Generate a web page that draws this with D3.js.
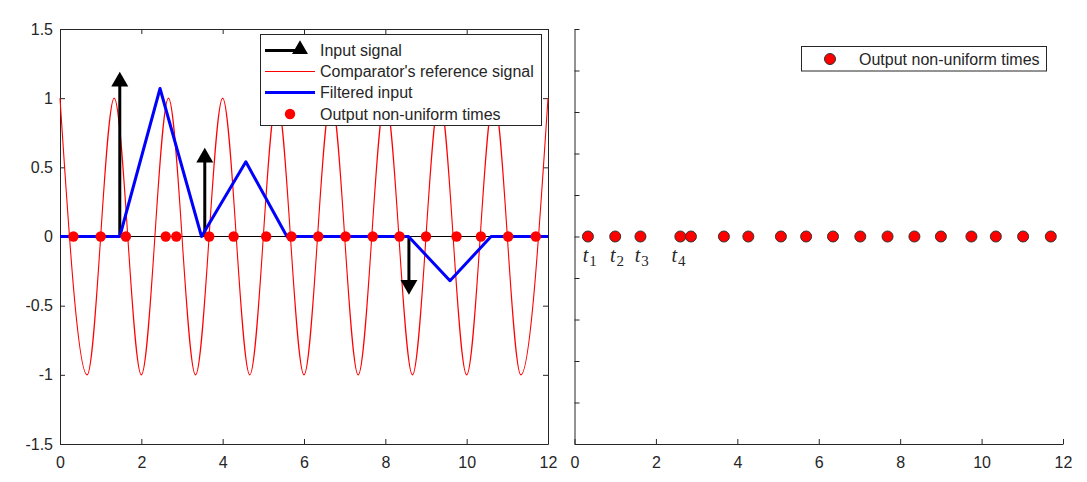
<!DOCTYPE html>
<html>
<head>
<meta charset="utf-8">
<script src="https://cdn.jsdelivr.net/npm/d3@7"></script>
<style>
  body { margin: 0; background: #fff; }
  text { font-family: "Liberation Sans", Arial, sans-serif; fill: #262626; }
  .axis path, .axis line { stroke: #262626; }
</style>
</head>
<body>
<div id="chart"></div>
<script>
// comparator reference signal, read as its peaks and troughs
var refT = [0, 0.667, 1.333, 2, 2.667, 3.333, 4, 4.667, 5.333, 6, 6.667, 7.333, 8, 8.667, 9.333, 10, 10.667, 11.333, 12];
var refV = [1, -1, 1, -1, 1, -1, 1, -1, 1, -1, 1, -1, 1, -1, 1, -1, 1, -1, 1];

// input impulses (stems with arrow heads)
var inputT = [1.47, 3.56, 8.58];
var inputV = [1.12, 0.57, -0.35];

// filtered input
var filtT = [0, 1.47, 2.46, 3.48, 4.57, 5.58, 8.57, 9.59, 10.6, 12];
var filtV = [0, 0, 1.07, 0, 0.54, 0, 0, -0.32, 0, 0];

// output non-uniform times
var outT = [0.33, 1.0, 1.62, 2.6, 2.86, 3.67, 4.27, 5.07, 5.69, 6.35, 7.02, 7.69, 8.35, 9.0, 9.75, 10.35, 11.02, 11.7];

// t_k labels on the right panel
var tSub = ["1", "2", "3", "4"];
var tLabelX = [0.2, 0.87, 1.48, 2.38];

var xTicks = [0, 2, 4, 6, 8, 10, 12];
var yTicksLeft = [-1.5, -1, -0.5, 0, 0.5, 1, 1.5];
var yTicksRight = [-1, -0.8, -0.6, -0.4, -0.2, 0, 0.2, 0.4, 0.6, 0.8, 1];

var legendLeft = ["Input signal", "Comparator's reference signal", "Filtered input", "Output non-uniform times"];

var W = 1087, H = 482;
var FS = "16px";
var svg = d3.select("#chart").append("svg")
  .attr("width", W).attr("height", H);

var yTop = 29, yBot = 444;

// ---------- left panel ----------
var x1 = d3.scaleLinear().domain([0, 12]).range([60, 548]);
var y1 = d3.scaleLinear().domain([-1.5, 1.5]).range([yBot, yTop]);

var g1 = svg.append("g");

// axes (ticks point inward like matlab)
g1.append("g").attr("class", "axis")
  .attr("transform", "translate(0," + yBot + ")")
  .call(d3.axisBottom(x1).tickValues(xTicks).tickSizeInner(-5).tickSizeOuter(0).tickPadding(13).tickFormat(d3.format("d")));
g1.append("g").attr("class", "axis")
  .attr("transform", "translate(0," + yTop + ")")
  .call(d3.axisTop(x1).tickValues(xTicks).tickSizeInner(-5).tickSizeOuter(0).tickFormat(""));
g1.append("g").attr("class", "axis")
  .attr("transform", "translate(60,0)")
  .call(d3.axisLeft(y1).tickValues(yTicksLeft).tickSizeInner(-5).tickSizeOuter(0).tickPadding(7).tickFormat(function(d) { return d; }));
g1.append("g").attr("class", "axis")
  .attr("transform", "translate(548,0)")
  .call(d3.axisRight(y1).tickValues(yTicksLeft).tickSizeInner(-5).tickSizeOuter(0).tickFormat(""));
g1.selectAll(".axis text").style("font-size", FS).attr("fill", "#262626");

// stem baseline
g1.append("line")
  .attr("x1", x1(0)).attr("x2", x1(12))
  .attr("y1", y1(0)).attr("y2", y1(0))
  .attr("stroke", "#000").attr("stroke-width", 1);

// reference signal
var refData = refT.map(function(t, i) { return [t, refV[i]]; });
g1.append("path")
  .attr("d", d3.line().x(function(d) { return x1(d[0]); }).y(function(d) { return y1(d[1]); })
    .curve(d3.curveMonotoneX)(refData))
  .attr("fill", "none").attr("stroke", "#ff0000").attr("stroke-width", 1.1);

// input stems
inputT.forEach(function(t, i) {
  g1.append("line")
    .attr("x1", x1(t)).attr("x2", x1(t))
    .attr("y1", y1(0)).attr("y2", y1(inputV[i]))
    .attr("stroke", "#000").attr("stroke-width", 3);
  g1.append("path")
    .attr("d", d3.symbol(d3.symbolTriangle, 125)())
    .attr("transform", "translate(" + x1(t) + "," + y1(inputV[i]) + ")" + (inputV[i] < 0 ? " rotate(180)" : ""))
    .attr("fill", "#000");
});

// filtered input
var filtData = filtT.map(function(t, i) { return [t, filtV[i]]; });
g1.append("path")
  .attr("d", d3.line().x(function(d) { return x1(d[0]); }).y(function(d) { return y1(d[1]); })(filtData))
  .attr("fill", "none").attr("stroke", "#0000ff").attr("stroke-width", 3)
  .attr("stroke-linejoin", "round");

// output dots
g1.selectAll(".dot").data(outT).enter().append("circle")
  .attr("cx", function(d) { return x1(d); })
  .attr("cy", y1(0))
  .attr("r", 5.2)
  .attr("fill", "#ff0000");

// left legend
var lg = g1.append("g");
lg.append("rect").attr("x", 260.5).attr("y", 34.5).attr("width", 281).attr("height", 91)
  .attr("fill", "#fff").attr("stroke", "#262626").attr("stroke-width", 1);
var rowY = [50.5, 71.5, 92.5, 114];
lg.append("line").attr("x1", 265).attr("x2", 302).attr("y1", rowY[0]).attr("y2", rowY[0])
  .attr("stroke", "#000").attr("stroke-width", 3);
lg.append("path").attr("d", d3.symbol(d3.symbolTriangle, 110)())
  .attr("transform", "translate(300," + (rowY[0] - 1) + ")").attr("fill", "#000");
lg.append("line").attr("x1", 265).attr("x2", 315).attr("y1", rowY[1]).attr("y2", rowY[1])
  .attr("stroke", "#ff0000").attr("stroke-width", 1.1);
lg.append("line").attr("x1", 265).attr("x2", 315).attr("y1", rowY[2]).attr("y2", rowY[2])
  .attr("stroke", "#0000ff").attr("stroke-width", 3);
lg.append("circle").attr("cx", 290).attr("cy", rowY[3]).attr("r", 5.2).attr("fill", "#ff0000");
legendLeft.forEach(function(s, i) {
  lg.append("text").attr("x", 320).attr("y", rowY[i] + 5.5)
    .style("font-size", FS).attr("fill", "#000").text(s);
});

// ---------- right panel ----------
var x2 = d3.scaleLinear().domain([0, 12]).range([574.5, 1063]);
var y2 = d3.scaleLinear().domain([-1, 1]).range([yBot, yTop]);

var g2 = svg.append("g");
g2.append("g").attr("class", "axis")
  .attr("transform", "translate(0," + yBot + ")")
  .call(d3.axisBottom(x2).tickValues(xTicks).tickSizeInner(-5).tickSizeOuter(0).tickPadding(13).tickFormat(d3.format("d")));
g2.append("g").attr("class", "axis")
  .attr("transform", "translate(574.5,0)")
  .call(d3.axisLeft(y2).tickValues(yTicksRight).tickSizeInner(-5).tickSizeOuter(0).tickFormat(""));
g2.selectAll(".axis text").style("font-size", FS).attr("fill", "#262626");

g2.selectAll(".dot").data(outT).enter().append("circle")
  .attr("cx", function(d) { return x2(d); })
  .attr("cy", y2(0))
  .attr("r", 5.5)
  .attr("fill", "#ff0000").attr("stroke", "#333").attr("stroke-width", 1);

// t_k labels
tSub.forEach(function(s, i) {
  var t = g2.append("text")
    .attr("x", x2(tLabelX[i])).attr("y", 262)
    .style("font-family", "'Liberation Serif', 'DejaVu Serif', serif")
    .style("font-size", "20px").attr("fill", "#000");
  t.append("tspan").style("font-style", "italic").text("t");
  t.append("tspan").attr("dy", 4).attr("dx", 1).style("font-size", "15px").text(s);
});

// right legend
var rg = g2.append("g");
rg.append("rect").attr("x", 801.5).attr("y", 46.5).attr("width", 245).attr("height", 24.5)
  .attr("fill", "#fff").attr("stroke", "#262626").attr("stroke-width", 1);
rg.append("circle").attr("cx", 830).attr("cy", 59).attr("r", 5.5)
  .attr("fill", "#ff0000").attr("stroke", "#333").attr("stroke-width", 1);
rg.append("text").attr("x", 859).attr("y", 64.5).style("font-size", FS).attr("fill", "#000")
  .text("Output non-uniform times");
</script>
</body>
</html>
